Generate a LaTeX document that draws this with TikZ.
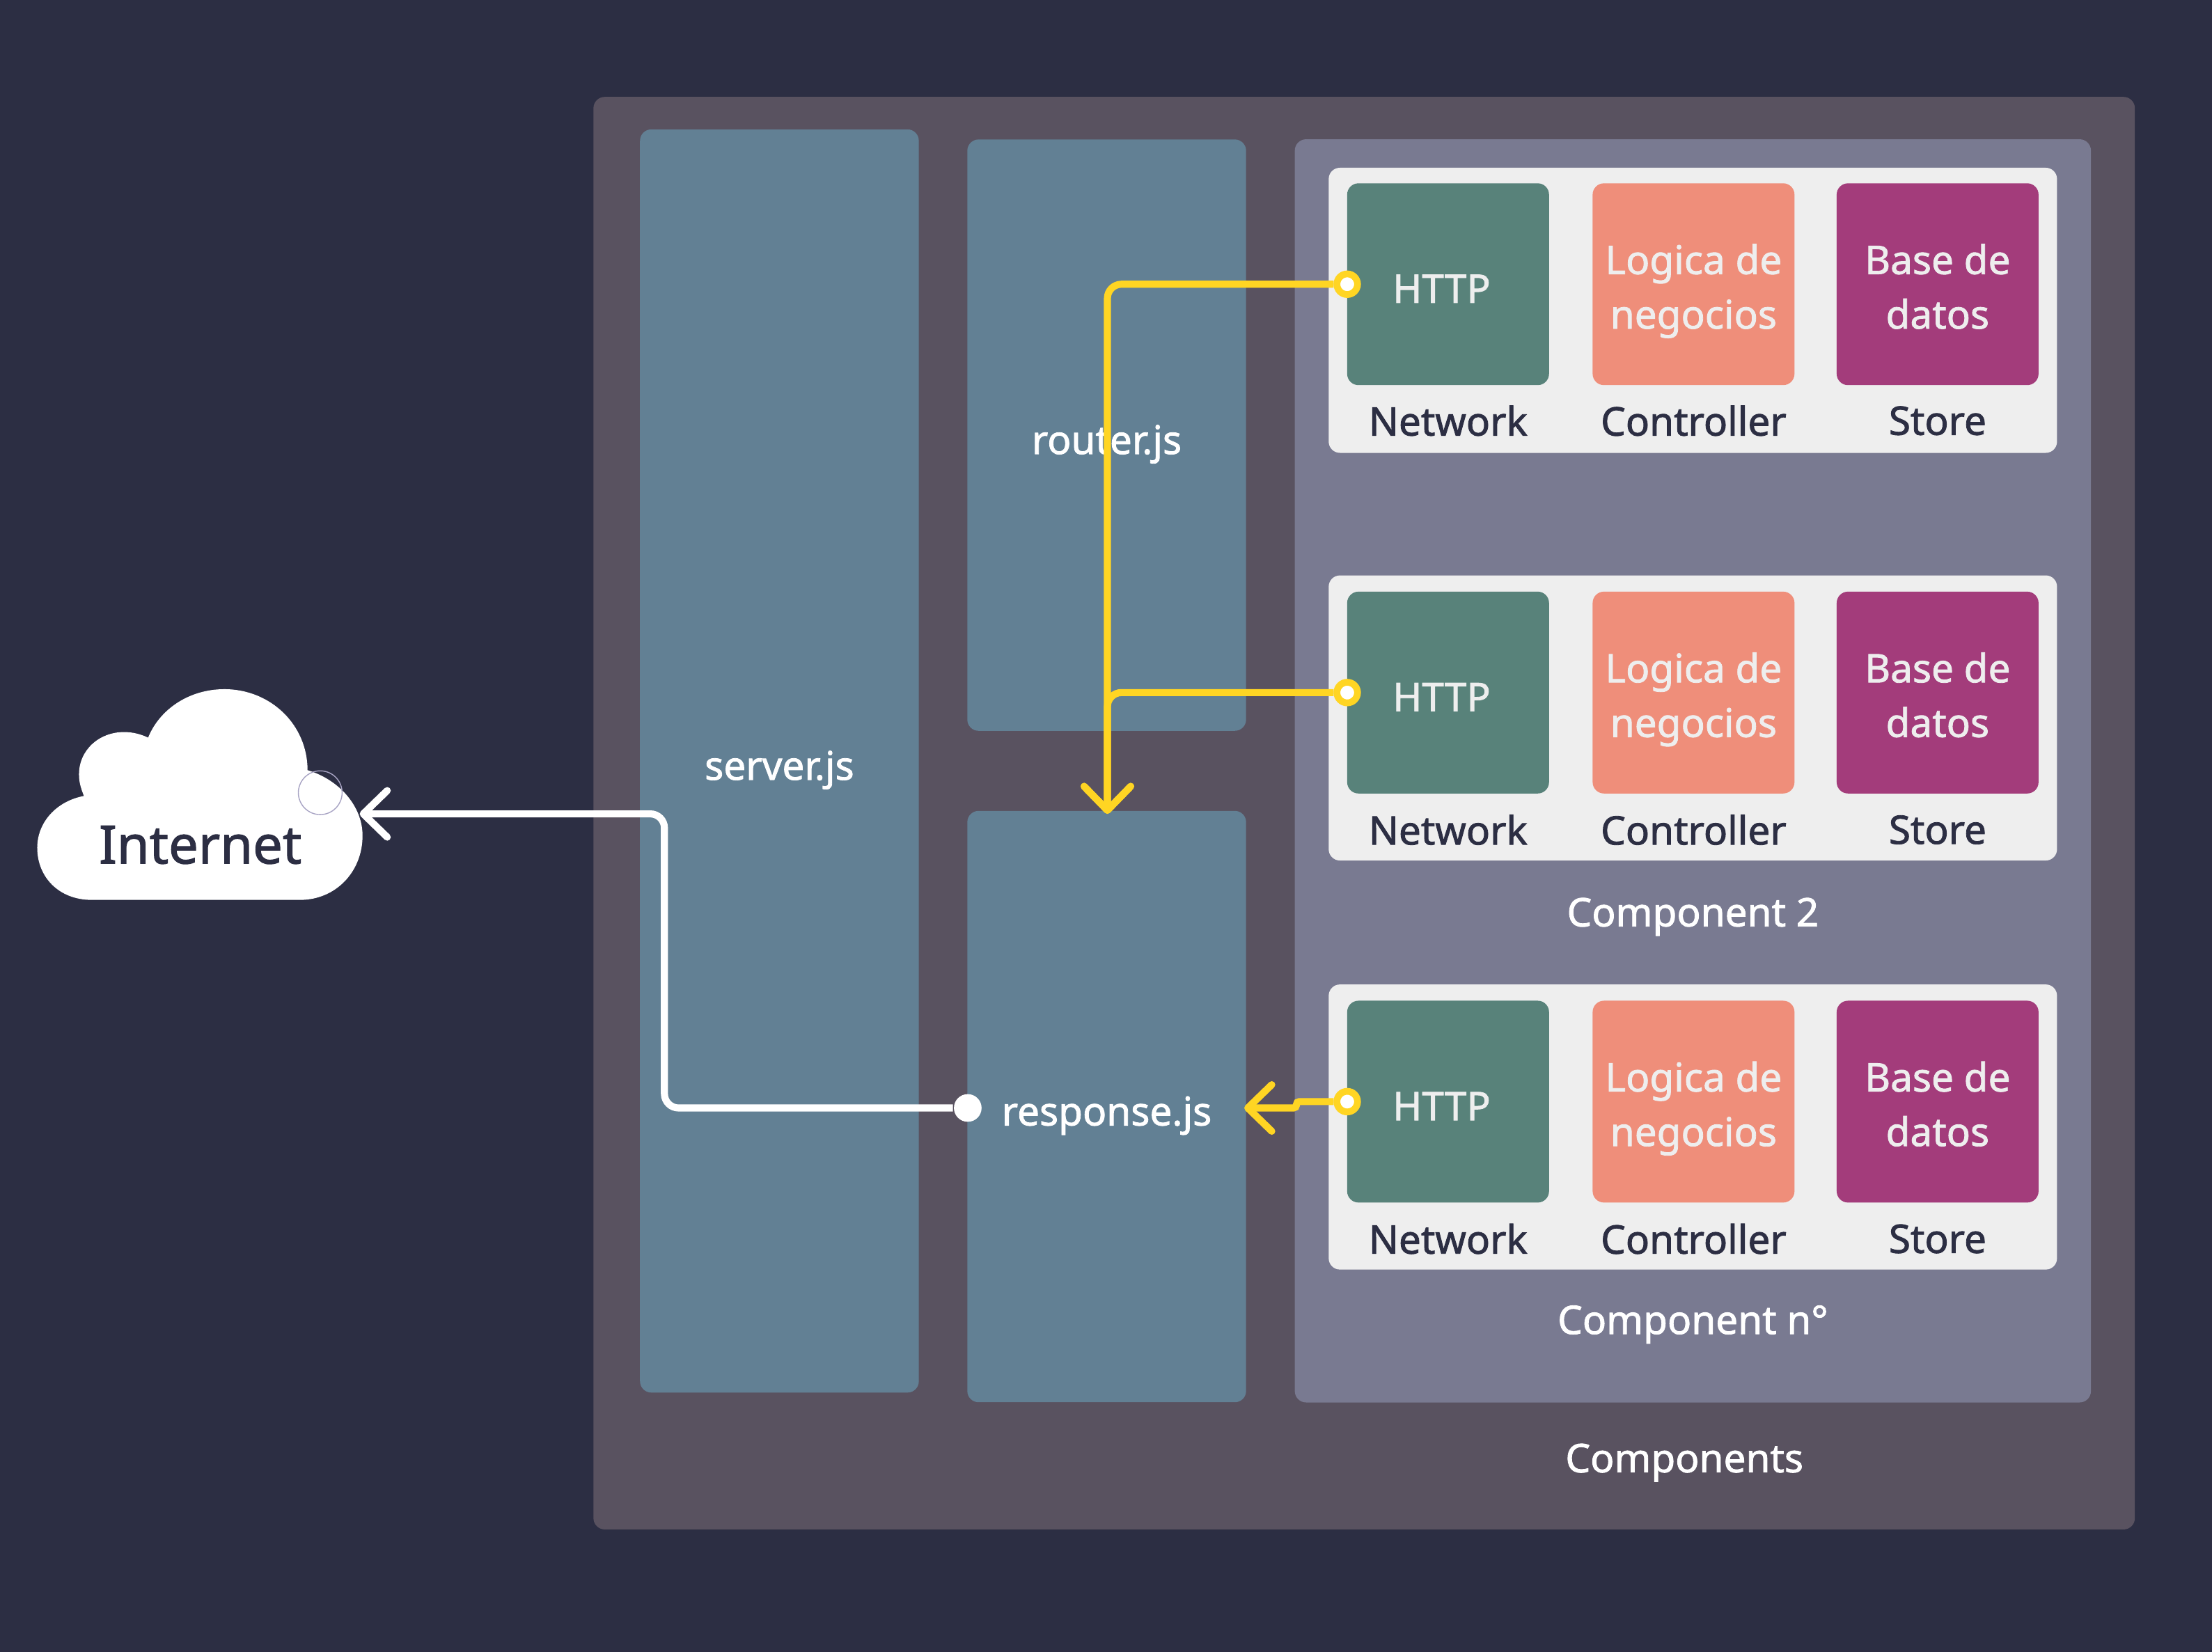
\documentclass[tikz,border=0pt]{standalone}
\usepackage{fontspec}
\setmainfont{Noto Sans}[UprightFeatures={FakeBold=1.5}]
\usetikzlibrary{arrows.meta}
\definecolor{pagebg}{HTML}{2C2E43}
\definecolor{outerbg}{HTML}{595260}
\definecolor{compbg}{HTML}{797A91}
\definecolor{filebg}{HTML}{628094}
\definecolor{panelbg}{HTML}{EEEEEE}
\definecolor{netgreen}{HTML}{58827A}
\definecolor{ctrlsalmon}{HTML}{EF8E7A}
\definecolor{storepurple}{HTML}{A33C7B}
\definecolor{wireyellow}{HTML}{FFD523}
\definecolor{ringgrey}{HTML}{A8A4C4}
\tikzset{
  filebox/.style={rectangle, rounded corners=.08cm, fill=filebg, minimum width=1.975cm, inner sep=0, text=white, text height=7.6pt, text depth=0pt, font=\fontsize{7.95}{10}\selectfont},
  panel/.style={rectangle, rounded corners=.08cm, fill=panelbg, minimum width=5.16cm, minimum height=2.02cm, inner sep=0},
  tile/.style={rectangle, rounded corners=.08cm, minimum width=1.43cm, minimum height=1.43cm, inner sep=0, align=center, text=panelbg, text depth=0pt, font=\fontsize{7.95}{11}\selectfont},
  singletile/.style={tile, text height=7.5pt},
  doubletile/.style={tile, text height=17.9pt},
  caption/.style={inner sep=0, text=pagebg, font=\fontsize{7.95}{10}\selectfont},
  comptitle/.style={inner sep=0, text=white, font=\fontsize{7.95}{10}\selectfont},
  wire/.style={line width=.05cm, rounded corners=.1cm, -{Straight Barb[round, length=.17cm, width=.33cm]}},
  port/.style={circle, inner sep=0, minimum size=.146cm, line width=.048cm, draw=wireyellow, fill=white},
}
\begin{document}
\begin{tikzpicture}[x=.01cm, y=-.01cm]
\useasboundingbox (0,0) rectangle (1568,1171.2);
\fill[pagebg] (0,0) rectangle (1568,1171.2);

% cloud
\fill[white] (65,638) .. controls (42,638) and (26.4,622) .. (26.4,601)
  .. controls (26.4,583) and (40,568) .. (59.5,564.3)
  .. controls (57,558) and (56,554) .. (56,549)
  .. controls (56,532) and (70,519) .. (88,519)
  .. controls (94,519) and (100,520.5) .. (105,523)
  .. controls (113,503) and (134,488.6) .. (159,488.6)
  .. controls (192,488.6) and (218,514) .. (218,546)
  .. controls (241,553) and (257,572) .. (257,592.4)
  .. controls (257,618) and (238,638) .. (212.6,638) -- cycle;
\node(Ring)[circle, draw=ringgrey, line width=.2pt, minimum size=.31cm, inner sep=0] at (227,562) {};
\node(Internet)[inner sep=0, text=pagebg, font=\fontsize{10.65}{13}\selectfont] at (142,599) {Internet};
\coordinate(CloudPort) at (255,577);

\node(Outer)[rectangle, rounded corners=.08cm, fill=outerbg, minimum width=10.92cm, minimum height=10.15cm] at (967,576.5) {};
\node(Server)[filebox, minimum height=8.95cm] at (552.5,539.5) {server.js};
\node(Router)[filebox, minimum height=4.19cm] at (784.5,308.5) {router.js};
\node(Response)[filebox, minimum height=4.19cm] at (784.5,784.5) {response.js};
\node(Comps)[rectangle, rounded corners=.08cm, fill=compbg, minimum width=5.64cm, minimum height=8.95cm] at (1200,546.5) {};

\node(Panel1)[panel] at (1200,220) {};
\node(Http1)[singletile, fill=netgreen] at (1026.5,201.5) {HTTP\hspace*{2.6pt}};
\node(Logic1)[doubletile, fill=ctrlsalmon] at (1200.5,201.5) {Logica de\\negocios};
\node(Base1)[doubletile, fill=storepurple] at (1373.5,201.5) {Base de\\datos};
\node(Net1)[caption] at (1026.5,298.3) {Network};
\node(Ctrl1)[caption] at (1200.5,298.3) {Controller};
\node(Store1)[caption] at (1373.5,298.3) {Store};

\node(Panel2)[panel] at (1200,509) {};
\node(Http2)[singletile, fill=netgreen] at (1026.5,491) {HTTP\hspace*{2.6pt}};
\node(Logic2)[doubletile, fill=ctrlsalmon] at (1200.5,491) {Logica de\\negocios};
\node(Base2)[doubletile, fill=storepurple] at (1373.5,491) {Base de\\datos};
\node(Net2)[caption] at (1026.5,588.3) {Network};
\node(Ctrl2)[caption] at (1200.5,588.3) {Controller};
\node(Store2)[caption] at (1373.5,588.3) {Store};
\node(Title2)[comptitle] at (1200,650) {Component 2};

\node(Panel3)[panel] at (1200,799) {};
\node(Http3)[singletile, fill=netgreen] at (1026.5,781) {HTTP\hspace*{2.6pt}};
\node(Logic3)[doubletile, fill=ctrlsalmon] at (1200.5,781) {Logica de\\negocios};
\node(Base3)[doubletile, fill=storepurple] at (1373.5,781) {Base de\\datos};
\node(Net3)[caption] at (1026.5,878.3) {Network};
\node(Ctrl3)[caption] at (1200.5,878.3) {Controller};
\node(Store3)[caption] at (1373.5,878.3) {Store};
\node(Title3)[comptitle] at (1200,939) {Component n°};
\node(TitleAll)[comptitle] at (1194,1037) {Components};

% ports and wires
\node(Port1)[port] at (955,201.5) {};
\node(Port2)[port] at (955,491) {};
\node(Port3)[port] at (955,781) {};
\node(PortOut)[circle, inner sep=0, minimum size=.196cm, fill=white] at (686,785.5) {};
\coordinate(ResTop) at (785,577);
\coordinate(ResSide) at (882,785.5);
\coordinate(JogA) at (919,781);
\coordinate(JogB) at (919,785.5);
\coordinate(BendA) at (471,785.5);
\coordinate(BendB) at (471,577);

\draw[wire, wireyellow] (Port1.west) -| (ResTop);
\draw[wire, wireyellow] (Port2.west) -| (ResTop);
\draw[wire, wireyellow, rounded corners=.02cm] (Port3.west) -- (JogA) -- (JogB) -- (ResSide);
\draw[wire, white] (PortOut.west) -- (BendA) -- (BendB) -- (CloudPort);
\end{tikzpicture}
\end{document}
